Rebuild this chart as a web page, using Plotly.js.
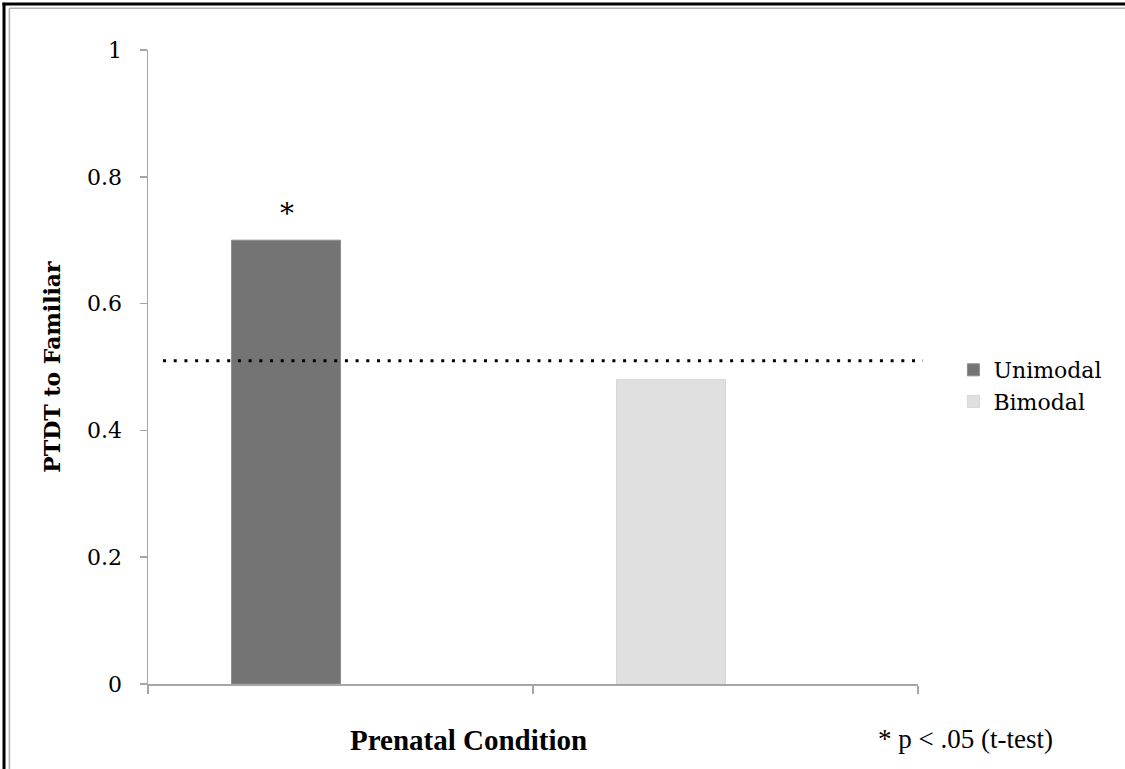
<!DOCTYPE html>
<html>
<head>
<meta charset="utf-8">
<script src="https://cdn.plot.ly/plotly-3.0.1.min.js"></script>
<style>
html, body { margin: 0; padding: 0; background: #ffffff; }
#chart { width: 1125px; height: 769px; }
</style>
</head>
<body>
<div id="chart"></div>
<script>
// ---- data ----
var categories = ["Unimodal", "Bimodal"];
var seriesNames = ["Unimodal", "Bimodal"];
var unimodalValues = [0.70, null];
var bimodalValues = [null, 0.48];
var chanceLevel = [0.51];
var yTickVals = [0, 0.2, 0.4, 0.6, 0.8, 1];
var yTickText = ["0", "0.2", "0.4", "0.6", "0.8", "1"];
var significanceMark = ["*"];
var xTitle = "Prenatal Condition";
var yTitle = "PTDT to Familiar";
var footnote = "* p < .05 (t-test)";

// ---- styling ----
var barW = 0.283;
var tickFont = { family: "DejaVu Serif", size: 22, color: "#000000" };
var axisGray = "#a6a6a6";

var traces = [
  {
    type: "bar",
    name: seriesNames[0],
    x: categories,
    y: unimodalValues,
    width: barW,
    offset: -barW,
    marker: { color: "#747474", line: { color: "#8c8c8c", width: 1 } },
    hoverinfo: "x+y"
  },
  {
    type: "bar",
    name: seriesNames[1],
    x: categories,
    y: bimodalValues,
    width: barW,
    offset: -barW,
    marker: { color: "#e0e0e0", line: { color: "#d6d6d6", width: 1 } },
    hoverinfo: "x+y"
  }
];

var layout = {
  width: 1125,
  height: 769,
  margin: { l: 148, r: 207, t: 50, b: 85 },
  paper_bgcolor: "#ffffff",
  plot_bgcolor: "#ffffff",
  barmode: "overlay",
  showlegend: true,
  legend: {
    x: 1.046, xanchor: "left",
    y: 0.47, yanchor: "middle",
    font: { family: "DejaVu Serif", size: 22, color: "#000000" },
    bgcolor: "rgba(0,0,0,0)",
    itemclick: false
  },
  xaxis: {
    type: "category",
    categoryorder: "array",
    categoryarray: categories,
    range: [-0.5, 1.5],
    tickson: "boundaries",
    ticks: "outside",
    ticklen: 8,
    tickcolor: axisGray,
    tickwidth: 1.5,
    showticklabels: false,
    showline: true,
    linecolor: axisGray,
    linewidth: 1.5,
    showgrid: false,
    zeroline: false,
    fixedrange: true
  },
  yaxis: {
    range: [0, 1],
    tickmode: "array",
    tickvals: yTickVals,
    ticktext: yTickText,
    ticks: "outside",
    ticklen: 7,
    tickcolor: axisGray,
    tickwidth: 1.5,
    tickfont: tickFont,
    ticklabelstandoff: 13,
    showline: true,
    linecolor: axisGray,
    linewidth: 1.5,
    showgrid: false,
    zeroline: false,
    fixedrange: true,
    title: {
      text: "<b>" + yTitle + "</b>",
      font: { family: "DejaVu Serif", size: 22, color: "#000000" },
      standoff: 20
    }
  },
  shapes: [
    {
      type: "line", xref: "paper", yref: "y",
      x0: 0.0195, x1: 1.0065, y0: chanceLevel[0], y1: chanceLevel[0],
      line: { color: "#000000", width: 3, dash: "3px,7.7px" }
    },
    // frame lines (top & left)
    { type: "line", xref: "paper", yref: "paper", x0: -0.1870, x1: -0.1870, y0: -0.2, y1: 1.0745,
      line: { color: "#000000", width: 3 } },
    { type: "line", xref: "paper", yref: "paper", x0: -0.1890, x1: 1.3, y0: 1.0725, y1: 1.0725,
      line: { color: "#000000", width: 3 } },
    { type: "line", xref: "paper", yref: "paper", x0: -0.1800, x1: -0.1800, y0: -0.2, y1: 1.066,
      line: { color: "#b0b0b0", width: 1.5 } },
    { type: "line", xref: "paper", yref: "paper", x0: -0.1800, x1: 1.3, y0: 1.066, y1: 1.066,
      line: { color: "#b0b0b0", width: 1.5 } }
  ],
  annotations: [
    {
      x: categories[0], y: unimodalValues[0], xref: "x", yref: "y",
      xshift: -54, yshift: 8,
      xanchor: "center", yanchor: "bottom",
      text: significanceMark[0], showarrow: false,
      font: { family: "DejaVu Serif", size: 28, color: "#000000" }
    },
    {
      x: 0.4156, y: -0.060, xref: "paper", yref: "paper",
      xanchor: "center", yanchor: "top",
      text: "<b>" + xTitle + "</b>", showarrow: false,
      font: { family: "Liberation Serif", size: 29, color: "#000000" }
    },
    {
      x: 0.946, y: -0.060, xref: "paper", yref: "paper",
      xanchor: "left", yanchor: "top",
      text: footnote, showarrow: false,
      font: { family: "Liberation Serif", size: 27, color: "#000000" }
    }
  ]
};

Plotly.newPlot("chart", traces, layout, { displayModeBar: false, staticPlot: true });
</script>
</body>
</html>
